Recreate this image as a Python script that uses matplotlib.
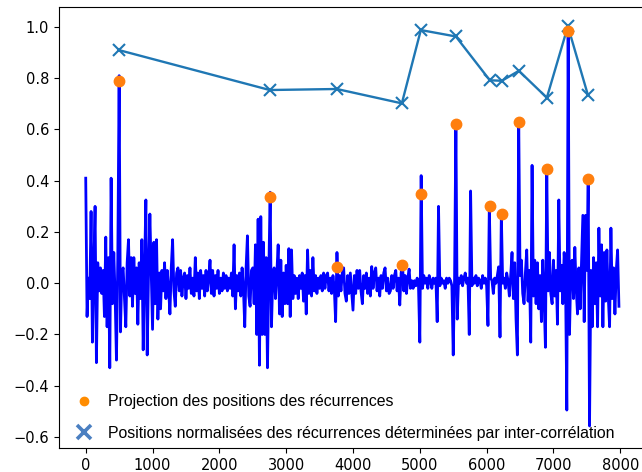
import numpy as np
import matplotlib
matplotlib.use("Agg")
import matplotlib.pyplot as plt
from matplotlib.lines import Line2D

# --- data -------------------------------------------------------------
sig_step = 20
sig_y = [
    0.41, -0.13, 0.02, -0.06, 0.28, -0.23, 0.05, 0.30, -0.31, 0.08, -0.03, 0.06, -0.04, 0.05, -0.13, 0.18, -0.17, 0.10, -0.33, 0.41,
    -0.08, 0.12, -0.05, -0.30, 0.10, 0.81, -0.19, 0.04, 0.06, -0.06, -0.17, 0.08, 0.17, -0.05, 0.10, -0.09, 0.10, -0.04, 0.06, -0.16,
    0.08, -0.06, 0.17, -0.26, 0.05, 0.325, -0.28, 0.04, 0.27, 0.05, -0.18, 0.16, -0.08, 0.17, -0.14, 0.04, -0.10, 0.05, -0.03, 0.08,
    -0.06, 0.05, -0.02, -0.12, 0.06, 0.17, -0.03, -0.09, 0.04, 0.06, -0.03, 0.05, -0.05, 0.02, 0.04, -0.06, 0.03, -0.02, 0.06, -0.04,
    0.02, -0.05, 0.10, -0.03, 0.04, -0.06, 0.05, -0.02, 0.03, -0.05, 0.05, -0.03, 0.02, 0.09, -0.04, 0.05, -0.05, 0.03, -0.02, 0.05,
    -0.04, 0.02, -0.03, 0.04, -0.02, 0.03, -0.03, 0.02, -0.02, 0.04, -0.05, 0.15, -0.10, 0.03, -0.03, 0.04, -0.05, 0.06, -0.02, -0.17,
    0.06, 0.185, -0.05, -0.09, 0.05, 0.06, -0.08, 0.15, -0.20, 0.25, -0.32, 0.26, -0.20, 0.16, -0.20, 0.10, -0.33, 0.04, 0.355, -0.17,
    0.03, 0.06, -0.06, 0.04, 0.15, -0.12, 0.09, -0.13, 0.04, -0.08, 0.07, -0.08, 0.135, -0.13, 0.13, -0.06, 0.03, -0.04, 0.02, -0.06,
    0.03, -0.02, 0.04, -0.07, 0.03, -0.12, 0.13, -0.04, 0.05, -0.05, 0.10, -0.03, 0.03, -0.04, 0.02, -0.02, 0.03, -0.03, 0.04, -0.02,
    0.03, 0.04, -0.03, 0.02, -0.04, 0.03, -0.02, -0.15, 0.12, -0.05, 0.03, -0.03, 0.04, 0.06, -0.04, -0.07, 0.03, -0.04, 0.04, -0.03,
    -0.105, 0.03, -0.04, 0.05, -0.02, 0.05, -0.03, -0.08, 0.03, -0.02, 0.04, -0.04, 0.02, -0.05, 0.065, -0.02, 0.04, 0.06, -0.03, 0.02,
    -0.05, 0.03, -0.02, 0.04, 0.06, -0.03, 0.02, -0.04, -0.03, 0.03, -0.02, 0.03, 0.05, -0.03, 0.02, -0.085, 0.04, 0.08, -0.03, 0.03,
    -0.04, 0.02, 0.055, -0.02, 0.01, -0.02, 0.01, -0.01, 0.02, -0.01, -0.23, 0.42, -0.02, 0.03, 0.00, 0.02, -0.02, 0.03, 0.01, -0.02,
    0.02, 0.00, 0.02, -0.15, 0.30, -0.01, 0.02, 0.00, 0.01, -0.02, 0.02, 0.00, 0.02, 0.01, -0.01, -0.28, 0.02, 0.63, -0.14, 0.02,
    0.00, 0.03, -0.01, 0.02, 0.04, 0.00, 0.02, -0.20, 0.36, -0.01, 0.02, 0.00, 0.03, -0.01, 0.02, 0.01, -0.02, 0.03, 0.00, 0.02,
    -0.01, -0.165, 0.30, 0.02, 0.01, -0.04, 0.02, 0.00, 0.03, 0.064, -0.21, 0.27, 0.00, 0.02, -0.02, 0.04, 0.01, -0.05, 0.03, 0.12,
    -0.06, 0.08, -0.14, -0.28, 0.64, 0.03, 0.09, -0.04, -0.08, 0.04, 0.13, -0.07, 0.05, -0.23, 0.46, -0.05, 0.09, -0.08, 0.08, -0.10,
    0.03, -0.15, 0.09, -0.06, -0.25, 0.445, -0.03, 0.12, -0.04, -0.08, 0.09, -0.05, 0.05, -0.16, 0.325, -0.03, 0.07, -0.08, 0.12, 0.03,
    -0.495, 0.99, -0.20, 0.05, 0.09, -0.06, 0.14, -0.02, -0.12, 0.06, -0.10, 0.08, 0.265, -0.15, 0.265, 0.05, 0.41, -0.557, 0.05, -0.17,
    0.10, -0.08, 0.08, -0.17, 0.215, -0.05, 0.15, -0.17, 0.12, -0.07, 0.13, -0.05, -0.17, 0.215, -0.06, 0.06, -0.12, 0.05, 0.13, -0.09,
]
sig_x = np.arange(len(sig_y)) * sig_step

rec_x = [494, 2754, 3757, 4731, 5015, 5539, 6048, 6228, 6482, 6901, 7216, 7515]
proj_y = [0.79, 0.338, 0.064, 0.073, 0.348, 0.622, 0.30, 0.27, 0.63, 0.446, 0.985, 0.408]
norm_y = [0.91, 0.754, 0.758, 0.702, 0.988, 0.963, 0.792, 0.79, 0.829, 0.724, 1.003, 0.735]

labels = ["Projection des positions des récurrences",
          "Positions normalisées des récurrences déterminées par inter-corrélation"]

x_ticks = list(range(0, 8001, 1000))
y_ticks = [-0.6, -0.4, -0.2, 0.0, 0.2, 0.4, 0.6, 0.8, 1.0]

# --- figure -----------------------------------------------------------
fig = plt.figure(figsize=(6.42, 4.72), dpi=100)
ax = fig.add_axes([59 / 642, 24 / 472, 588 / 642, 441 / 472])

ax.plot(sig_x, sig_y, color="#0000ff", lw=2.0, zorder=2)
ax.plot(rec_x, norm_y, color="#1f77b4", marker="x", ms=8, mew=1.5, lw=1.7, zorder=3)
ax.plot(rec_x, proj_y, ls="none", marker="o", ms=7.5, color="#ff7f0e", zorder=4)

ax.set_xlim(-400, 8400)
ax.set_ylim(-0.643, 1.078)
ax.set_xticks(x_ticks)
ax.set_yticks(y_ticks)
ax.tick_params(labelsize=10.5)

handles = [
    Line2D([], [], ls="none", marker="o", ms=6, color="#ff8c00"),
    Line2D([], [], ls="none", marker="x", ms=10, mew=2.6, color="#4a7fc1"),
]
ax.legend(handles, labels, loc="lower left", bbox_to_anchor=(0.1087, 0.053),
          bbox_transform=fig.transFigure, frameon=False, borderaxespad=0,
          prop={"family": "Liberation Sans", "size": 11.4},
          handlelength=1.0, handletextpad=1.02, labelspacing=1.03)

fig.savefig("out.png", dpi=100)
